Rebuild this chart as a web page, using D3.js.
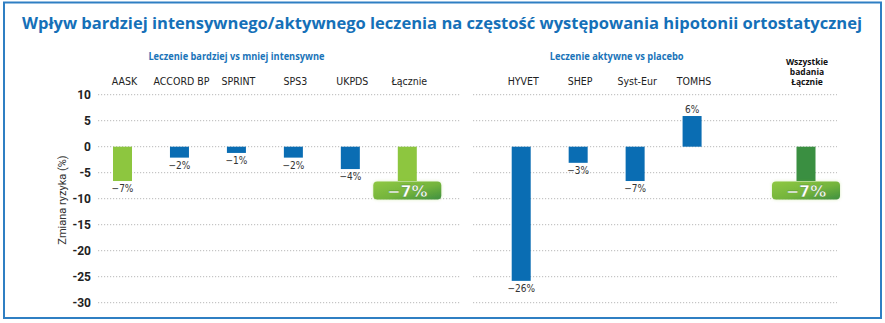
<!DOCTYPE html>
<html><head><meta charset="utf-8">
<script src="https://cdn.jsdelivr.net/npm/d3@7"></script>
<style>body{margin:0;background:#fff}svg{display:block}</style>
</head><body><svg id="c" width="885" height="323"></svg>
<script>
const title = "Wpływ bardziej intensywnego/aktywnego leczenia na częstość występowania hipotonii ortostatycznej";
const groupTitles = ["Leczenie bardziej vs mniej intensywne", "Leczenie aktywne vs placebo"];
const slots = ["AASK","ACCORD BP","SPRINT","SPS3","UKPDS","Łącznie","_gap1","HYVET","SHEP","Syst-Eur","TOMHS","_gap2","Wszystkie badania Łącznie"];
const categories = ["AASK","ACCORD BP","SPRINT","SPS3","UKPDS","Łącznie","HYVET","SHEP","Syst-Eur","TOMHS","Wszystkie badania Łącznie"];
const values = [-6.6,-2.1,-1.2,-2.1,-4.3,-6.6,-25.8,-3.1,-6.6,5.9,-6.6];
const valueLabels = ["−7%","−2%","−1%","−2%","−4%","−7%","−26%","−3%","−7%","6%","−7%"];
const barKind = ["light","blue","blue","blue","blue","light","blue","blue","blue","blue","dark"];
const badgeCategories = ["Łącznie","Wszystkie badania Łącznie"];
const badgeLabels = ["−7%","−7%"];
const yTicks = [10,5,0,-5,-10,-15,-20,-25,-30];
const yLabel = "Zmiana ryzyka (%)";

const colors = {blue:"#0a6db3", light:"#8dc63f", dark:"#3a8f41"};
const svg = d3.select("#c");
const defs = svg.append("defs");
const gr = defs.append("linearGradient").attr("id","bg").attr("x1","0").attr("y1","0").attr("x2","1").attr("y2","1");
gr.append("stop").attr("offset","0").attr("stop-color","#8fc843");
gr.append("stop").attr("offset","0.55").attr("stop-color","#74b43c");
gr.append("stop").attr("offset","1").attr("stop-color","#3f9040");
const fl = defs.append("filter").attr("id","glow").attr("x","-20%").attr("y","-40%").attr("width","140%").attr("height","180%");
fl.append("feGaussianBlur").attr("in","SourceAlpha").attr("stdDeviation","1.5").attr("result","b");
fl.append("feFlood").attr("flood-color","#8dc63f").attr("flood-opacity","0.35");
fl.append("feComposite").attr("in2","b").attr("operator","in").attr("result","g");
const fm = fl.append("feMerge"); fm.append("feMergeNode").attr("in","g"); fm.append("feMergeNode").attr("in","SourceGraphic");

// frame
svg.append("rect").attr("x",4).attr("y",2.5).attr("width",877).attr("height",315.5)
  .attr("fill","none").attr("stroke","#2f7fc3").attr("stroke-width",2);

// title
svg.append("text").attr("x",442).attr("y",29).attr("text-anchor","middle")
  .attr("font-family","'Open Sans', sans-serif").attr("font-weight","bold").attr("font-size",16.5)
  .attr("fill","#1570b8").attr("textLength",840).attr("lengthAdjust","spacingAndGlyphs").text(title);

const x = d3.scalePoint().domain(slots).range([122.5, 806]);
const y = d3.scaleLinear().domain([-30,10]).range([302.7, 94.7]);
const bw = 19;
const narrow = "'Liberation Sans Narrow','DejaVu Sans Condensed','Roboto',sans-serif";

// gridlines (two segments)
const segs = [[98,460],[473,837]];
yTicks.forEach(t => segs.forEach(s => {
  svg.append("line").attr("x1",s[0]).attr("x2",s[1]).attr("y1",y(t)).attr("y2",y(t))
    .attr("stroke","#b8b8b8").attr("stroke-width",1).attr("stroke-dasharray","1.2,1.8");
}));

// y axis tick labels
const yAxis = d3.axisLeft(y).tickValues(yTicks).tickSize(0).tickPadding(0).tickFormat(d=>d);
const ya = svg.append("g").attr("transform","translate(91,0)").call(yAxis);
ya.select(".domain").remove();
ya.selectAll("text").attr("font-family","'Roboto','DejaVu Sans',sans-serif").attr("font-weight","bold")
  .attr("font-size",12).attr("fill","#222").attr("dy","0.35em");

svg.append("text").attr("transform",`translate(66,200) rotate(-90)`).attr("text-anchor","middle")
  .attr("font-family","'Roboto',sans-serif").attr("font-size",11).attr("fill","#333").text(yLabel);

// group titles
const gCenters = [x("SPRINT"), d3.mean([x("HYVET"),x("TOMHS")]) + 10];
groupTitles.forEach((t,i) => svg.append("text").attr("x",gCenters[i]).attr("y",60)
  .attr("text-anchor","middle").attr("font-family","'Open Sans',sans-serif").attr("font-weight","bold")
  .attr("font-size",10).attr("fill","#1a74b9").attr("textLength",i?134:176).attr("lengthAdjust","spacingAndGlyphs").text(t));

// category labels
categories.forEach(c => {
  if (c === "Wszystkie badania Łącznie") {
    const lines = ["Wszystkie","badania","Łącznie"];
    lines.forEach((l,j)=>svg.append("text").attr("x",x(c)+1).attr("y",65+j*10).attr("text-anchor","middle")
      .attr("font-family","'Open Sans',sans-serif").attr("font-weight","bold").attr("font-size",8.5)
      .attr("fill","#111").text(l));
  } else {
    svg.append("text").attr("x",x(c)+2).attr("y",85).attr("text-anchor","middle")
      .attr("font-family",narrow).attr("font-size",10.5).attr("fill","#222").text(c);
  }
});

// bars
const data = categories.map((c,i)=>({c, v:values[i], lab:valueLabels[i], k:barKind[i]}));
svg.append("g").selectAll("rect").data(data).join("rect")
  .attr("x",d=>x(d.c)-bw/2).attr("width",bw)
  .attr("y",d=>y(Math.max(0,d.v))).attr("height",d=>Math.abs(y(d.v)-y(0)))
  .attr("fill",d=>colors[d.k]);

// value labels
svg.append("g").selectAll("text").data(data.filter(d=>!badgeCategories.includes(d.c))).join("text")
  .attr("x",d=>x(d.c)).attr("y",d=>d.v<0? y(d.v)+11 : y(d.v)-3)
  .attr("text-anchor","middle").attr("font-family",narrow).attr("font-size",10).attr("fill","#333")
  .text(d=>d.lab);

// badges
badgeCategories.forEach((c,i)=>{
  const cx = x(c);
  const g = svg.append("g").attr("filter","url(#glow)");
  g.append("rect").attr("x",cx-34).attr("y",181.5).attr("width",68).attr("height",18).attr("rx",4)
    .attr("fill","url(#bg)");
  svg.append("text").attr("x",cx).attr("y",197).attr("text-anchor","middle")
    .attr("font-family","'DejaVu Sans',sans-serif").attr("font-weight","bold").attr("font-size",16)
    .attr("fill","#fff").attr("stroke","#4a8a2e").attr("stroke-width",0.4).text(badgeLabels[i]);
});
</script></body></html>
